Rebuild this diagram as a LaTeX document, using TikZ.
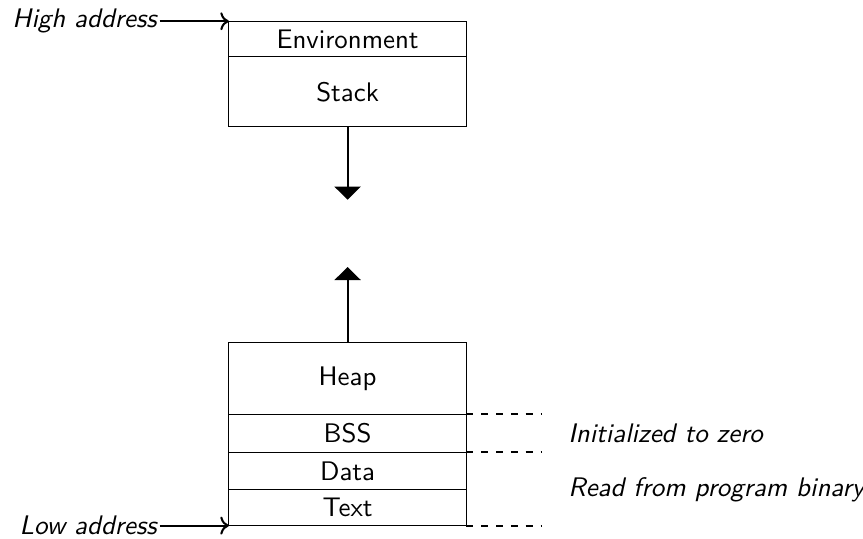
\documentclass[tikz,border=0pt]{standalone}
\usetikzlibrary{arrows.meta, positioning}

\begin{document}
\begin{tikzpicture}[
			font=\sffamily\fontsize{10.5pt}{12.6pt}\selectfont,
			node distance=0pt,
			seg/.style={rectangle, draw, minimum width=3.26cm, outer sep=0pt, inner sep=0pt, text centered},
			addr/.style={font=\sffamily\itshape\fontsize{10.5pt}{12.6pt}\selectfont, inner sep=1pt},
			growth/.style={-{Triangle[width=0.36cm, length=0.18cm]}, thick},
			boundary/.style={thick, dash pattern=on 2.8pt off 3pt}
			]
			\useasboundingbox (0,0) rectangle (11.85,7.39);
			
			% Segments
			\node (env) [seg, minimum height=0.49cm] at (4.773,6.853) {Environment};
			\node (stack) [seg, below=of env, minimum height=0.96cm] {Stack};
			\node (heap) [seg, below=2.965cm of stack, minimum height=0.98cm] {Heap};
			\node (bss) [seg, below=of heap, minimum height=0.52cm] {BSS};
			\node (data) [seg, below=of bss, minimum height=0.52cm] {Data};
			\node (text) [seg, below=of data, minimum height=0.49cm] {Text};
			
			% Growth arrows
			\coordinate (stack end) at ([yshift=-1cm]stack.south);
			\coordinate (heap end) at ([yshift=1.04cm]heap.north);
			\draw[growth] (stack.south) -- (stack end);
			\draw[growth] (heap.north) -- (heap end);
			
			% Addresses
			\node (high) [addr, left=0.95cm of env.north west] {High address};
			\node (low) [addr, left=0.95cm of text.south west] {Low address};
			\draw[->, thick] (high) -- (env.north west);
			\draw[->, thick] (low) -- (text.south west);
			
			% Boundaries
			\coordinate (bss tick) at ([xshift=1.02cm]bss.north east);
			\coordinate (data tick) at ([xshift=1.02cm]data.north east);
			\coordinate (text tick) at ([xshift=1.02cm]text.south east);
			\draw[boundary] (bss.north east) -- (bss tick);
			\draw[boundary] (data.north east) -- (data tick);
			\draw[boundary] (text.south east) -- (text tick);
			\node (zero) [addr, anchor=west] at ([xshift=1.36cm]bss.east) {Initialized to zero};
			\node (binary) [addr, anchor=west] at ([xshift=1.36cm]data.south east) {Read from program binary};
			
		\end{tikzpicture}
\end{document}
